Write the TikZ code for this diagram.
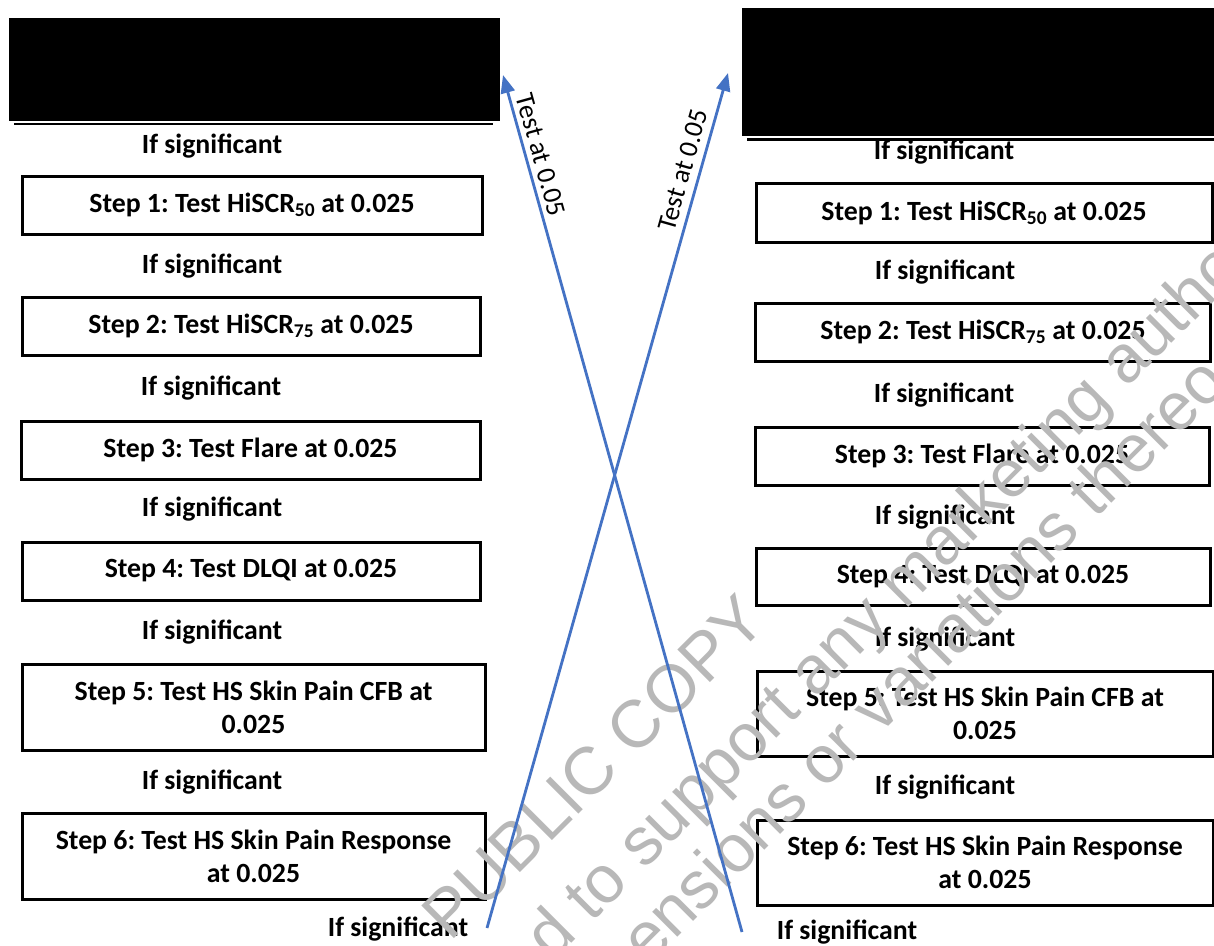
\documentclass[tikz,border=0pt]{standalone}
\usepackage{fontspec}
\setmainfont{Carlito}
\newfontfamily\wmfont{Liberation Sans}
\usetikzlibrary{arrows.meta}
\definecolor{arrowblue}{HTML}{4472C4}
\definecolor{wmgray}{gray}{0.72}
\frenchspacing
\begin{document}
\begin{tikzpicture}[x=1pt,y=-1pt,
  stepbox/.style={draw=black, line width=3pt, align=center, inner sep=0pt,
    font=\bfseries\fontsize{27.8}{33}\selectfont},
  sig/.style={inner sep=0pt, font=\bfseries\fontsize{27.8}{33}\selectfont},
  testarrow/.style={draw=arrowblue, line width=2.8pt, -{Triangle[length=18pt,width=14pt]}},
  arrowlabel/.style={inner sep=0pt, font=\fontsize{27}{32}\selectfont},
  wm/.style={inner sep=0pt, text=wmgray, rotate=45, font=\wmfont\fontsize{67}{67}\selectfont}]

\useasboundingbox (0,0) rectangle (1214,945);
\fill[white] (0,0) rectangle (1214,945);
\clip (0,0) rectangle (1214,945);

% redacted header blocks
\fill[black] (9,18) rectangle (500,121);
\draw[line width=2.5pt] (14,124) -- (493,124);
\fill[black] (742,8) rectangle (1214,136);
\draw[line width=3pt] (747,139.5) -- (1214,139.5);

% left column
\node[sig] (ls0) at (212,146) {If significant};
\node[stepbox, minimum width=460pt, minimum height=58pt] (l1) at (252,205) {Step 1: Test HiSCR\textsubscript{50} at 0.025};
\node[sig] (ls1) at (212,266) {If significant};
\node[stepbox, minimum width=458pt, minimum height=58pt] (l2) at (251,326) {Step 2: Test HiSCR\textsubscript{75} at 0.025};
\node[sig] (ls2) at (211,388) {If significant};
\node[stepbox, minimum width=459pt, minimum height=58pt] (l3) at (250.5,450) {Step 3: Test Flare at 0.025};
\node[sig] (ls3) at (212,509) {If significant};
\node[stepbox, minimum width=458pt, minimum height=58pt] (l4) at (251,571) {Step 4: Test DLQI at 0.025};
\node[sig] (ls4) at (212,632) {If significant};
\node[stepbox, minimum width=463pt, minimum height=86pt] (l5) at (253.5,707) {Step 5: Test HS Skin Pain CFB at\\0.025};
\node[sig] (ls5) at (212,782) {If significant};
\node[stepbox, minimum width=463pt, minimum height=86pt] (l6) at (253.5,856) {Step 6: Test HS Skin Pain Response\\at 0.025};
\node[sig] (ls6) at (398,929) {If significant};

% right column
\node[sig] (rs0) at (944,152) {If significant};
\node[stepbox, minimum width=456pt, minimum height=59pt] (r1) at (984,212.5) {Step 1: Test HiSCR\textsubscript{50} at 0.025};
\node[sig] (rs1) at (945,272) {If significant};
\node[stepbox, minimum width=455pt, minimum height=58pt] (r2) at (983,332) {Step 2: Test HiSCR\textsubscript{75} at 0.025};
\node[sig] (rs2) at (944,395) {If significant};
\node[stepbox, minimum width=454pt, minimum height=58pt] (r3) at (982,456) {Step 3: Test Flare at 0.025};
\node[sig] (rs3) at (945,517) {If significant};
\node[stepbox, minimum width=454pt, minimum height=57pt] (r4) at (983,576.5) {Step 4: Test DLQI at 0.025};
\node[sig] (rs4) at (945,639) {If significant};
\node[stepbox, minimum width=456pt, minimum height=85pt] (r5) at (985,713.5) {Step 5: Test HS Skin Pain CFB at\\0.025};
\node[sig] (rs5) at (945,787) {If significant};
\node[stepbox, minimum width=456pt, minimum height=85pt] (r6) at (985,862.5) {Step 6: Test HS Skin Pain Response\\at 0.025};
\node[sig] (rs6) at (847,932) {If significant};

% watermark
\node[wm, anchor=base] (wm1) at (610,783) {PUBLIC COPY};
\node[wm, anchor=base west] (wm2) at (552,963) {d to support any marketing autho};
\node[wm, anchor=base west] (wm3) at (648,967) {ensions or variations thereo};

% crossing arrows
\coordinate (aStart) at (742,932);
\coordinate (aEnd) at (503,75);
\coordinate (bStart) at (487,928);
\coordinate (bEnd) at (728,73);
\draw[testarrow] (aStart) -- (aEnd);
\draw[testarrow] (bStart) -- (bEnd);

\node[arrowlabel, rotate=-74.4] (alab) at (541,155) {Test at 0.05};
\node[arrowlabel, rotate=74.2] (blab) at (683,170) {Test at 0.05};
\end{tikzpicture}
\end{document}
